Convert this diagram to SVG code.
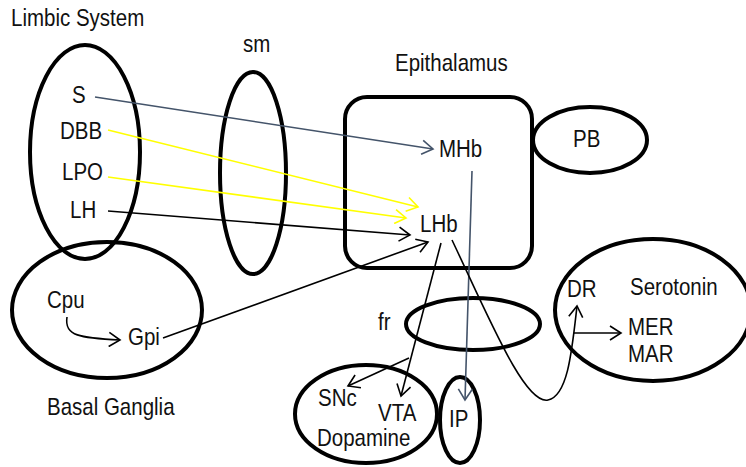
<svg xmlns="http://www.w3.org/2000/svg" width="746" height="467" viewBox="0 0 746 467">
<style>
.region{fill:none;stroke:#000;stroke-width:4}
.lbl{font-family:"Liberation Sans",Arial,sans-serif;font-size:20.5px;fill:#111}
.c{fill:none;stroke-width:1.6}
.k{stroke:#000}
.y{stroke:#ffff00}
.s{stroke:#44546a}
</style>
<defs>
<marker id="ak" markerUnits="userSpaceOnUse" markerWidth="14" markerHeight="16" refX="12" refY="8" orient="auto"><path d="M1,1 L12,8 L1,15" fill="none" stroke="#000" stroke-width="1.6"/></marker>
<marker id="ay" markerUnits="userSpaceOnUse" markerWidth="14" markerHeight="16" refX="12" refY="8" orient="auto"><path d="M1,1 L12,8 L1,15" fill="none" stroke="#ffff00" stroke-width="1.6"/></marker>
<marker id="as" markerUnits="userSpaceOnUse" markerWidth="14" markerHeight="16" refX="12" refY="8" orient="auto"><path d="M1,1 L12,8 L1,15" fill="none" stroke="#44546a" stroke-width="1.6"/></marker>
</defs>
<rect width="746" height="467" fill="#fff"/>
<text class="lbl" transform="translate(11 26) scale(1 1.18)">Limbic System</text>
<g id="limbic"><ellipse class="region" cx="85" cy="152" rx="55" ry="107"/>
<text class="lbl" transform="translate(72 103) scale(1 1.18)">S</text>
<text class="lbl" transform="translate(60 139) scale(1 1.18)">DBB</text>
<text class="lbl" transform="translate(62 180) scale(1 1.18)">LPO</text>
<text class="lbl" transform="translate(70 218) scale(1 1.18)">LH</text></g>
<g id="sm"><ellipse class="region" cx="253" cy="173" rx="33" ry="101"/>
<text class="lbl" transform="translate(243 52) scale(1 1.18)">sm</text></g>
<g id="basal"><ellipse class="region" cx="107" cy="310" rx="95" ry="68"/>
<text class="lbl" transform="translate(47 308) scale(1 1.18)">Cpu</text>
<text class="lbl" transform="translate(128 345) scale(1 1.18)">Gpi</text>
<text class="lbl" transform="translate(47 415) scale(1 1.18)">Basal Ganglia</text></g>
<g id="epithalamus"><rect class="region" x="345" y="97" width="187" height="171" rx="22"/>
<text class="lbl" transform="translate(395 71) scale(1 1.18)">Epithalamus</text>
<text class="lbl" transform="translate(439 157) scale(1 1.18)">MHb</text>
<text class="lbl" transform="translate(420 232) scale(1 1.18)">LHb</text></g>
<g id="pb"><ellipse class="region" cx="590" cy="140" rx="57" ry="33"/>
<text class="lbl" transform="translate(573 147) scale(1 1.18)">PB</text></g>
<g id="fr"><ellipse class="region" cx="473" cy="324" rx="67" ry="26"/>
<text class="lbl" transform="translate(378 330) scale(1 1.18)">fr</text></g>
<g id="dopamine"><ellipse class="region" cx="366" cy="414" rx="71" ry="49"/>
<text class="lbl" transform="translate(318 406) scale(1 1.18)">SNc</text>
<text class="lbl" transform="translate(378 421) scale(1 1.18)">VTA</text>
<text class="lbl" transform="translate(317 446) scale(1 1.15)">Dopamine</text></g>
<g id="ip"><ellipse class="region" cx="460" cy="420" rx="20" ry="43"/>
<text class="lbl" transform="translate(449 427) scale(1 1.18)">IP</text></g>
<g id="serotonin"><ellipse class="region" cx="653" cy="310" rx="98" ry="71"/>
<text class="lbl" transform="translate(567 297) scale(1 1.18)">DR</text>
<text class="lbl" transform="translate(630 295) scale(1 1.18)">Serotonin</text>
<text class="lbl" transform="translate(628 335) scale(1 1.18)">MER</text>
<text class="lbl" transform="translate(628 362) scale(1 1.18)">MAR</text></g>
<g id="connectors">
<line class="c s" x1="95" y1="97" x2="433" y2="149" marker-end="url(#as)"/>
<line class="c y" x1="108" y1="130" x2="418" y2="207" marker-end="url(#ay)"/>
<line class="c y" x1="108" y1="177" x2="406" y2="218" marker-end="url(#ay)"/>
<line class="c k" x1="108" y1="211" x2="410" y2="235" marker-end="url(#ak)"/>
<line class="c k" x1="163" y1="338" x2="428" y2="242" marker-end="url(#ak)"/>
<path class="c k" d="M67,317 C64,336 80,338 120,340" marker-end="url(#ak)"/>
<line class="c s" x1="472" y1="171" x2="465" y2="400" marker-end="url(#as)"/>
<line class="c k" x1="441" y1="243" x2="401" y2="396" marker-end="url(#ak)"/>
<line class="c k" x1="409" y1="358" x2="348" y2="386" marker-end="url(#ak)"/>
<path class="c k" d="M452,240 C490,320 525,405 548,400 C568,396 572,350 577,306" marker-end="url(#ak)"/>
<line class="c k" x1="574" y1="333" x2="621" y2="333" marker-end="url(#ak)"/>
</g>
</svg>
